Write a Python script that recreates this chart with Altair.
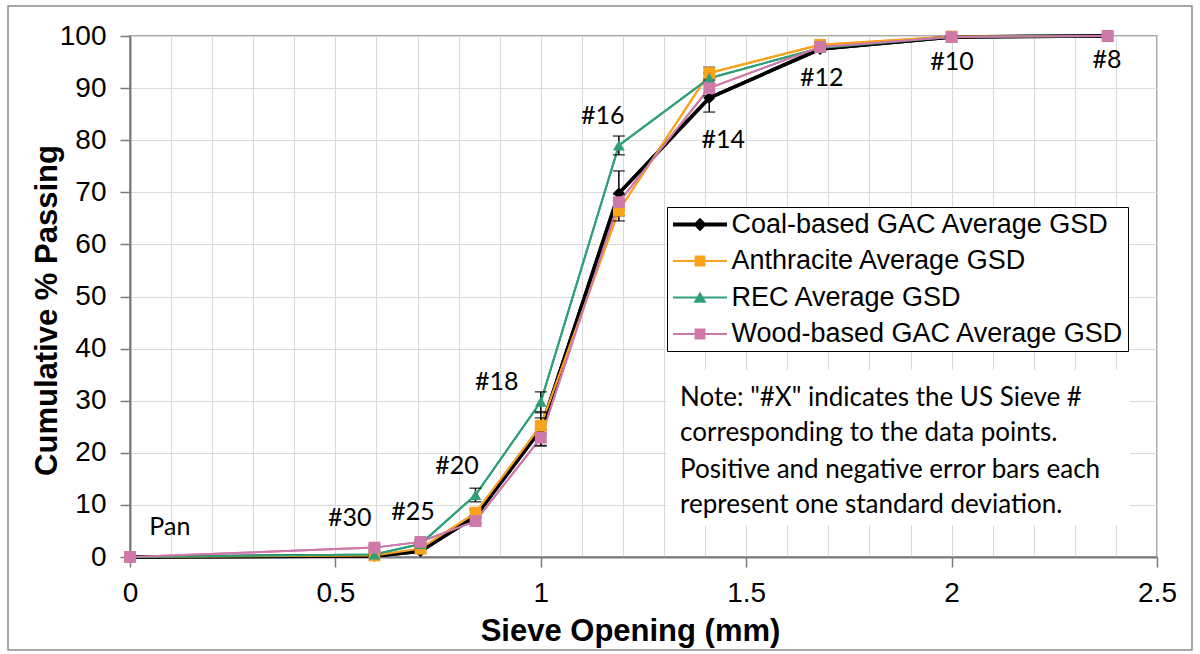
import altair as alt
import pandas as pd

# ---------------- data ----------------
sieve_mm = [0.0, 0.595, 0.707, 0.841, 1.0, 1.19, 1.41, 1.68, 2.0, 2.38]
sieve_labels = ["Pan", "#30", "#25", "#20", "#18", "#16", "#14", "#12", "#10", "#8"]
label_x = [0.097, 0.535, 0.689, 0.796, 0.893, 1.151, 1.444, 1.684, 2.001, 2.378]
label_y = [5.8, 7.5, 8.6, 17.5, 33.6, 84.6, 80.0, 91.9, 95.0, 95.4]

series_names = ["Coal-based GAC Average GSD", "Anthracite Average GSD",
                "REC Average GSD", "Wood-based GAC Average GSD"]
coal = [0.0, 0.2, 1.1, 7.8, 24.5, 69.8, 88.1, 97.5, 99.8, 100.0]
coal_sd = [0.0, 0.1, 0.3, 1.2, 3.2, 4.3, 2.7, 0.5, 0.1, 0.0]
anthracite = [0.0, 0.3, 1.6, 8.5, 25.2, 66.5, 92.9, 98.3, 99.9, 100.0]
anthracite_sd = [0.0, 0.1, 0.3, 0.8, 1.5, 2.0, 1.1, 0.3, 0.1, 0.0]
rec = [0.0, 0.5, 2.5, 11.9, 29.8, 79.0, 91.9, 97.7, 99.8, 100.0]
rec_sd = [0.0, 0.2, 0.4, 1.3, 1.9, 1.8, 1.0, 0.4, 0.1, 0.0]
wood = [0.0, 1.8, 2.9, 6.9, 22.9, 68.1, 90.0, 97.9, 99.8, 100.0]
wood_sd = [0.0, 0.5, 0.4, 0.6, 1.5, 1.5, 1.5, 0.4, 0.1, 0.0]

note_lines = ['Note: "#X" indicates the US Sieve #',
              'corresponding to the data points.',
              'Positive and negative error bars each',
              'represent one standard deviation.']
note_line_y = [30.5, 23.8, 16.7, 10.0]
note_x = 1.339
note_box = {"x0": 1.307, "x1": 2.434, "y0": 6.1, "y1": 35.9}

x_tick_values = [round(i * 0.1, 1) for i in range(26)]
y_tick_values = list(range(0, 101, 10))

# ---------------- styles ----------------
colors = ["#000000", "#F9A21C", "#2F9F7A", "#CE79AA"]
shapes = ["diamond", "square", "triangle-up", "square"]
legend_paths = [
    "M-2,-0.14H2V0.14H-2Z M0,-0.5L0.5,0L0,0.5L-0.5,0Z",
    "M-2,-0.075H2V0.075H-2Z M-0.4,-0.4H0.4V0.4H-0.4Z",
    "M-2,-0.075H2V0.075H-2Z M0,-0.45L0.48,0.38H-0.48Z",
    "M-2,-0.075H2V0.075H-2Z M-0.4,-0.4H0.4V0.4H-0.4Z",
]

rows = []
for si, (name, vals, sds) in enumerate(zip(series_names,
                                          [coal, anthracite, rec, wood],
                                          [coal_sd, anthracite_sd, rec_sd, wood_sd])):
    for x, v, s in zip(sieve_mm, vals, sds):
        rows.append({"series": name, "sorder": si, "x": x, "y": v,
                     "sd": s, "lo": v - s, "hi": v + s})
df = pd.DataFrame(rows)
err_df = df[df["sd"] > 0]

labels_df = pd.DataFrame({"text": sieve_labels, "x": label_x, "y": label_y})
note_df = pd.DataFrame({"text": note_lines, "x": [note_x] * 4, "y": note_line_y})
note_box_df = pd.DataFrame([note_box])

tick_test = "abs(datum.value*2 - round(datum.value*2)) < 0.001"

x_enc = alt.X("x:Q", scale=alt.Scale(domain=[0, 2.5], nice=False),
              axis=alt.Axis(values=x_tick_values, title="Sieve Opening (mm)",
                            labelExpr=f"{tick_test} ? format(datum.value, '~g') : ''",
                            tickOpacity={"condition": {"test": tick_test, "value": 1}, "value": 0},
                            grid=True, titleX=500, titleY=74, titleBaseline="middle",
                            labelPadding=12, labelFlush=False, labelOverlap=False))
y_enc = alt.Y("y:Q", scale=alt.Scale(domain=[0, 100], nice=False),
              axis=alt.Axis(values=y_tick_values, title="Cumulative % Passing",
                            grid=True, titleX=-67, titleY=274, titleBaseline="bottom",
                            labelPadding=14, labelFlush=False))

color_plain = alt.Color("series:N", scale=alt.Scale(domain=series_names, range=colors), legend=None)

base = alt.Chart(df)

frame = alt.Chart(pd.DataFrame({"k": [0]})).mark_rect(
    fillOpacity=0, stroke="#8a8a8a", strokeWidth=1.5
).encode(x=alt.value(-122), x2=alt.value(1062), y=alt.value(-30), y2=alt.value(614))

note_rect = alt.Chart(note_box_df).mark_rect(fill="white").encode(
    x=alt.X("x0:Q", scale=alt.Scale(domain=[0, 2.5], nice=False)), x2="x1:Q",
    y=alt.Y("y0:Q", scale=alt.Scale(domain=[0, 100], nice=False)), y2="y1:Q")

lines = base.mark_line().encode(
    x=x_enc, y=y_enc, color=color_plain, detail="series:N", order="x:Q",
    strokeWidth=alt.condition(f"datum.series == '{series_names[0]}'", alt.value(3.5), alt.value(2)))

err_rule = alt.Chart(err_df).mark_rule(color="black", strokeWidth=1.5).encode(
    x="x:Q", y="lo:Q", y2="hi:Q")
cap_lo = alt.Chart(err_df).mark_tick(color="black", orient="horizontal", size=12, thickness=1.5).encode(
    x="x:Q", y="lo:Q")
cap_hi = alt.Chart(err_df).mark_tick(color="black", orient="horizontal", size=12, thickness=1.5).encode(
    x="x:Q", y="hi:Q")

points = base.mark_point(filled=True, opacity=1, size=140).encode(
    x="x:Q", y="y:Q", color=color_plain,
    shape=alt.Shape("series:N", scale=alt.Scale(domain=series_names, range=shapes), legend=None),
    order="sorder:Q")

legend_props = dict(title=None, orient="none", legendX=537, legendY=171,
                    symbolSize=729, symbolStrokeWidth=0, symbolOffset=15.5, symbolOpacity=1,
                    labelOffset=18, labelFont="Liberation Sans", labelFontSize=27,
                    labelLimit=800, padding=4, rowPadding=8.5,
                    strokeColor="black", fillColor="white")

legend_layer = base.mark_point(filled=True, opacity=0).encode(
    x="x:Q", y="y:Q",
    color=alt.Color("series:N", scale=alt.Scale(domain=series_names, range=colors),
                    legend=alt.Legend(**legend_props)),
    shape=alt.Shape("series:N", scale=alt.Scale(domain=series_names, range=legend_paths),
                    legend=alt.Legend(**legend_props)))

sieve_text = alt.Chart(labels_df).mark_text(font="Lato", fontSize=25, color="black").encode(
    x="x:Q", y="y:Q", text="text:N")

note_text = alt.Chart(note_df).mark_text(font="Lato", fontSize=26, color="black", align="left").encode(
    x="x:Q", y="y:Q", text="text:N")

chart = alt.layer(
    lines, frame, note_rect, lines, err_rule, cap_lo, cap_hi, points, legend_layer, sieve_text, note_text
).resolve_scale(color="independent", shape="independent").properties(
    width=1027, height=521,
    padding={"left": 130, "top": 36, "right": 43, "bottom": 97},
    autosize=alt.AutoSizeParams(type="none"),
    background="white",
).configure_view(stroke="#8c8c8c", strokeWidth=1.5).configure_axis(
    labelFont="Liberation Sans", labelFontSize=28, labelColor="black",
    titleFont="Liberation Sans", titleFontSize=31, titleFontWeight="bold", titleColor="black",
    gridColor="#d9d9d9", gridWidth=1, domainColor="#7a7a7a", domainWidth=2,
    tickColor="#7a7a7a", tickWidth=1.5, tickSize=10,
)

chart.save("out.html", embed_options={"renderer": "svg", "actions": False})
